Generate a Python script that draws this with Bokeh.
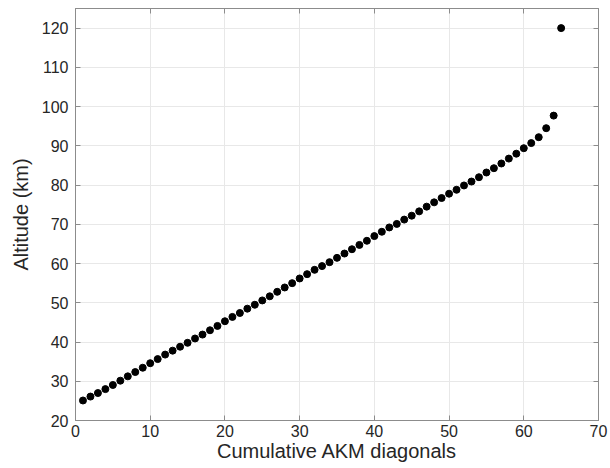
from bokeh.plotting import figure
from bokeh.models import Range1d, LinearAxis, FixedTicker, ColumnDataSource
from bokeh.embed import file_html
from bokeh.resources import INLINE

# Data
diagonals = list(range(1, 66))
altitude_km = [
    25.1, 26.1, 27.0, 28.0, 29.05, 30.15, 31.25, 32.35, 33.45, 34.6,
    35.65, 36.8, 37.8, 38.8, 39.8, 40.9, 41.9, 43.0, 44.1, 45.3,
    46.4, 47.4, 48.5, 49.5, 50.6, 51.65, 52.8, 53.9, 55.0, 56.2,
    57.3, 58.4, 59.35, 60.35, 61.45, 62.55, 63.65, 64.75, 65.8, 67.0,
    68.1, 69.2, 70.1, 71.2, 72.2, 73.3, 74.5, 75.6, 76.7, 77.8,
    78.8, 79.9, 80.9, 82.0, 83.2, 84.3, 85.5, 86.75, 88.0, 89.4,
    90.7, 92.2, 94.5, 97.7, 120.0,
]
x_ticks = [0, 10, 20, 30, 40, 50, 60, 70]
y_ticks = [20, 30, 40, 50, 60, 70, 80, 90, 100, 110, 120]
x_label = "Cumulative AKM diagonals"
y_label = "Altitude (km)"

FONT = "Liberation Sans"
AXIS_COLOR = "#8c8c8c"
TEXT_COLOR = "#262626"
GRID_COLOR = "#e8e8e8"

p = figure(width=610, height=468, output_backend="svg", toolbar_location=None,
           x_range=Range1d(0, 70), y_range=Range1d(20, 125),
           min_border_left=75, min_border_right=12, min_border_top=8,
           min_border_bottom=48, background_fill_color="white",
           border_fill_color="white")

p.outline_line_color = AXIS_COLOR
p.outline_line_width = 1

for ax, ticks in ((p.xaxis[0], x_ticks), (p.yaxis[0], y_ticks)):
    ax.ticker = FixedTicker(ticks=ticks)
    ax.axis_line_color = AXIS_COLOR
    ax.major_tick_line_color = AXIS_COLOR
    ax.major_tick_in = 5
    ax.major_tick_out = 0
    ax.minor_tick_line_color = None
    ax.major_label_text_font = FONT
    ax.major_label_text_font_size = "16px"
    ax.major_label_text_color = TEXT_COLOR
    ax.axis_label_text_font = FONT
    ax.axis_label_text_font_size = "20px"
    ax.axis_label_text_font_style = "normal"
    ax.axis_label_text_color = TEXT_COLOR

p.xaxis[0].axis_label = x_label
p.yaxis[0].axis_label = y_label
p.xaxis[0].major_label_standoff = 4
p.yaxis[0].major_label_standoff = 7
p.xaxis[0].axis_label_standoff = 0
p.yaxis[0].axis_label_standoff = 7

# right and top axes: ticks only, no tick labels
for loc, ticks in (("right", y_ticks), ("above", x_ticks)):
    ax = LinearAxis(ticker=FixedTicker(ticks=ticks),
                    major_label_overrides={t: "" for t in ticks})
    ax.axis_line_color = AXIS_COLOR
    ax.major_tick_line_color = AXIS_COLOR
    ax.major_tick_in = 5
    ax.major_tick_out = 0
    ax.minor_tick_line_color = None
    ax.major_label_text_font_size = "1px"
    ax.major_label_text_color = None
    ax.major_label_standoff = 0
    p.add_layout(ax, loc)

p.xgrid.ticker = FixedTicker(ticks=x_ticks)
p.ygrid.ticker = FixedTicker(ticks=y_ticks)
p.grid.grid_line_color = GRID_COLOR
p.grid.grid_line_width = 1

src = ColumnDataSource(dict(x=diagonals, y=altitude_km))
p.scatter("x", "y", source=src, size=7, fill_color="black", line_color="black")

open("out.html", "w").write(file_html(p, INLINE))
